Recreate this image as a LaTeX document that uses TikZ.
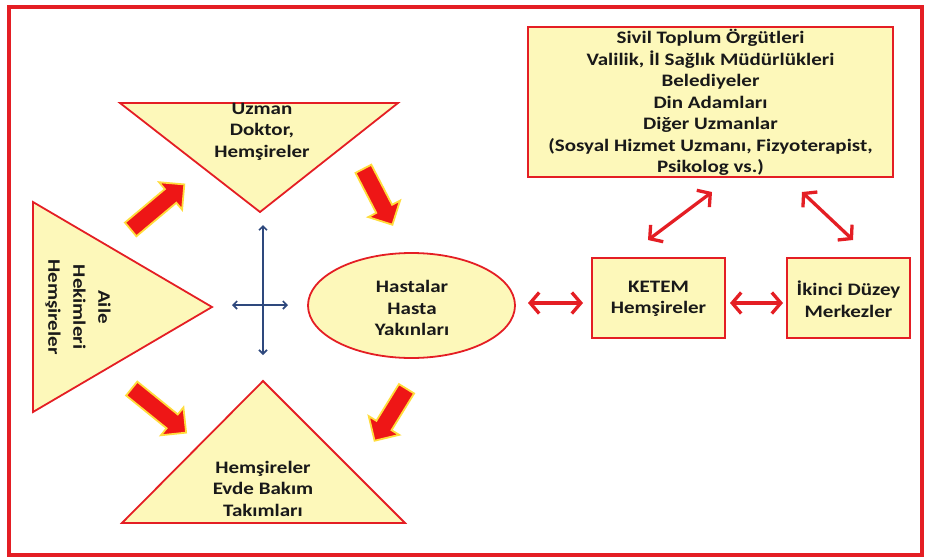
\documentclass[tikz,border=0pt]{standalone}
\usepackage{fontspec}
\newfontfamily\lab{Carlito}[FakeStretch=1.2]
\usetikzlibrary{arrows.meta,shapes.geometric,shapes.arrows,calc}
\definecolor{bord}{RGB}{228,30,36}
\definecolor{fillY}{RGB}{253,248,186}
\definecolor{txt}{RGB}{25,25,25}
\definecolor{navy}{RGB}{46,72,125}
\definecolor{glow}{RGB}{255,220,60}
\definecolor{bigred}{RGB}{238,22,22}
\begin{document}
\begin{tikzpicture}[x=1pt,y=-1pt,
  lbl/.style={font=\lab\bfseries\fontsize{17.5}{21.5}\selectfont, text=txt, align=center, inner sep=0pt},
  shapebox/.style={draw=bord, line width=1.8pt, fill=fillY},
  dblarrow/.style={draw=bord, line width=3.3pt, {Straight Barb[length=9pt,width=21pt]}-{Straight Barb[length=9pt,width=21pt]}},
  crossarrow/.style={draw=navy, line width=1.6pt, {Straight Barb[length=4pt,width=8pt]}-{Straight Barb[length=4pt,width=8pt]}},
  bigarrow/.style={single arrow, fill=bigred, draw=glow, line width=1.8pt, inner xsep=0pt, inner ysep=8pt,
    single arrow head extend=9pt, anchor=tail, minimum width=1pt}
]
\useasboundingbox (0,0) rectangle (926,557);
\draw[bord, line width=4pt] (9,7) rectangle (922,555);

% triangles
\coordinate (L1) at (33,202); \coordinate (L2) at (33,412); \coordinate (L3) at (212,307);
\coordinate (T1) at (120,103); \coordinate (T2) at (398,103); \coordinate (T3) at (260,212);
\coordinate (B1) at (263,381); \coordinate (B2) at (122,523); \coordinate (B3) at (405,523);
\path[shapebox] (L1) -- (L2) -- (L3) -- cycle;
\path[shapebox] (T1) -- (T2) -- (T3) -- cycle;
\path[shapebox] (B1) -- (B2) -- (B3) -- cycle;

\node[lbl, rotate=-90, font=\lab\bfseries\fontsize{17.5}{25}\selectfont] (aile) at (78,307) {Aile\\Hekimleri\\Hemşireler};
\node[lbl] (uzman) at (262,131.5) {Uzman\\Doktor,\\Hemşireler};
\node[lbl] (evde) at (263,488.5) {Hemşireler\\Evde Bakım\\Takımları};

% ellipse
\node[ellipse, shapebox, minimum width=207pt, minimum height=105pt] (ell) at (411.5,305.5) {};
\node[lbl] (hasta) at (412,308) {Hastalar\\Hasta\\Yakınları};

% boxes
\node[rectangle, shapebox, minimum width=365pt, minimum height=150pt] (sivil) at (710.5,102) {};
\node[lbl] (sivilt) at (710.5,102.5) {Sivil Toplum Örgütleri\\Valilik, İl Sağlık Müdürlükleri\\Belediyeler\\Din Adamları\\Diğer Uzmanlar\\(Sosyal Hizmet Uzmanı, Fizyoterapist,\\Psikolog vs.)};
\node[rectangle, shapebox, minimum width=133pt, minimum height=80pt] (ketem) at (658.5,298) {};
\node[lbl] (ketemt) at (658.5,299) {KETEM\\Hemşireler};
\node[rectangle, shapebox, minimum width=123pt, minimum height=80pt] (ikinci) at (848.5,298) {};
\node[lbl] (ikincit) at (848.5,299) {İkinci Düzey\\Merkezler};

% red double arrows
\coordinate (e1) at (528,303); \coordinate (k1) at (583,303);
\coordinate (k2) at (730,303); \coordinate (i1) at (783,303);
\coordinate (k3) at (648,240); \coordinate (s1) at (712,192);
\coordinate (i2) at (853,240); \coordinate (s2) at (802,192);
\draw[dblarrow] (e1) -- (k1);
\draw[dblarrow] (k2) -- (i1);
\draw[dblarrow] (k3) -- (s1);
\draw[dblarrow] (i2) -- (s2);

% blue cross
\coordinate (cT) at (263,225); \coordinate (cB) at (263,355);
\coordinate (cL) at (232,305); \coordinate (cR) at (288,305);
\draw[crossarrow] (cT) -- (cB);
\draw[crossarrow] (cL) -- (cR);

% big red arrows
\coordinate (a1) at (130,230); \node[bigarrow, rotate=40, minimum height=70pt] (A1) at (a1) {};
\coordinate (a2) at (363,168); \node[bigarrow, rotate=-62.6, minimum height=63pt] (A2) at (a2) {};
\coordinate (a3) at (131,388); \node[bigarrow, rotate=-39, minimum height=70pt] (A3) at (a3) {};
\coordinate (a4) at (407,388); \node[bigarrow, rotate=-121.6, minimum height=61pt] (A4) at (a4) {};
\end{tikzpicture}
\end{document}
